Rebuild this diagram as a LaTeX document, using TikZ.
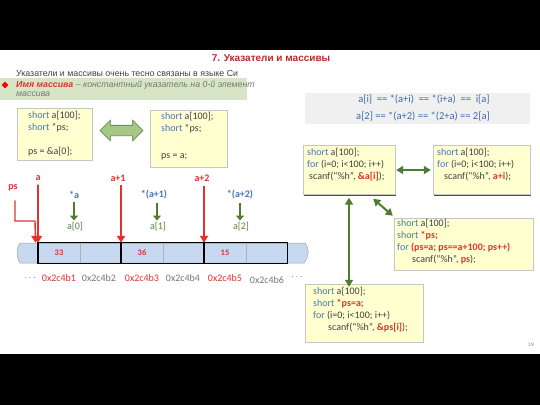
\documentclass[tikz,border=0pt]{standalone}
\usepackage{fontspec}
\setmainfont{Liberation Sans}
\newfontfamily\codefont{Carlito}
\usetikzlibrary{shapes.arrows,shapes.geometric,arrows.meta,shadows}
\definecolor{titlered}{RGB}{192,40,40}
\definecolor{lblred}{RGB}{226,50,45}
\definecolor{kwblue}{RGB}{70,120,185}
\definecolor{fblue}{RGB}{60,105,170}
\definecolor{txtgray}{RGB}{64,64,64}
\definecolor{itgray}{RGB}{120,120,120}
\definecolor{bandgreen}{RGB}{214,229,198}
\definecolor{codeyellow}{RGB}{255,255,208}
\definecolor{arrgreen}{RGB}{80,125,45}
\definecolor{lightarr}{RGB}{165,200,135}
\definecolor{lblgreen}{RGB}{90,130,60}
\definecolor{stripblue}{RGB}{198,217,240}
\definecolor{fboxgray}{RGB}{240,240,240}
\newcommand\kwd[1]{\textcolor{kwblue}{#1}}
\newcommand\rbd[1]{\textcolor{lblred}{\bfseries #1}}
\tikzset{
  codebox/.style={draw=gray!45, fill=codeyellow, inner sep=0pt,
    drop shadow={shadow xshift=1.3pt, shadow yshift=-1.3pt, fill=black!70, opacity=1}},
  codetext/.style={font=\codefont\fontsize{10}{12}\selectfont, text=txtgray, align=left, inner sep=0pt, anchor=north west},
  ftext/.style={font=\codefont\fontsize{10.5}{12}\selectfont, text=fblue, inner sep=0pt},
  ptrlbl/.style={font=\codefont\bfseries\fontsize{10}{11}\selectfont, text=lblred, inner sep=1pt},
  derlbl/.style={font=\codefont\bfseries\fontsize{10}{11}\selectfont, text=kwblue, inner sep=1pt},
  elemlbl/.style={font=\codefont\fontsize{10}{11}\selectfont, text=lblgreen, inner sep=1pt},
  addr/.style={font=\codefont\fontsize{10}{11}\selectfont, inner sep=0pt},
  cellbox/.style={draw=gray!60, minimum width=41.5pt, minimum height=20pt, inner sep=0pt, font=\codefont\bfseries\fontsize{8.5}{9}\selectfont, text=lblred},
  redarrow/.style={draw=lblred, line width=1.6pt, -{Triangle[width=8pt,length=7pt]}},
  smallg/.style={draw=arrgreen, line width=2.6pt, -{Triangle[width=8pt,length=5pt]}},
  garrow/.style={draw=arrgreen, line width=2pt, {Triangle[width=8pt,length=7pt]}-{Triangle[width=8pt,length=7pt]}}
}
\begin{document}
\begin{tikzpicture}[x=1pt,y=-1pt]
\useasboundingbox (0,0) rectangle (540,405);
\fill[white] (0,0) rectangle (540,405);
\fill[black] (0,0) rectangle (540,50);
\fill[black] (0,354) rectangle (540,405);

% title and intro
\node[font=\bfseries\fontsize{10}{11}\selectfont, text=titlered, inner sep=0] (title) at (271,58) {7. Указатели и массивы};
\node[font=\fontsize{8.8}{10}\selectfont, text=txtgray, anchor=west, inner sep=0] (intro) at (16,73) {Указатели и массивы очень тесно связаны в языке Си};
\fill[bandgreen] (0,78) rectangle (247,100);
\node[diamond, fill=red, minimum size=7pt, inner sep=0] (bul) at (5,85) {};
\node[font=\itshape\fontsize{8.8}{9.8}\selectfont, text=itgray, anchor=north west, align=left, inner sep=0] (band) at (16,80.3)
  {\textcolor{lblred}{\bfseries Имя массива} – константный указатель на 0-й элемент\\массива};

% formula box
\node[fill=fboxgray, minimum width=225pt, minimum height=31pt, inner sep=0] (fbox) at (417.5,108) {};
\node[ftext] (f1) at (424,99.5) {a[i]\ \ == *(a+i)\ \ == *(i+a)\ \ ==\ \ i[a]};
\node[ftext] (f2) at (423,116) {a[2] == *(a+2) == *(2+a) == 2[a]};

% left code boxes
\node[codebox, minimum width=75pt, minimum height=52pt] (b1) at (54.5,134) {};
\node[codetext] (t1) at (28,111) {\kwd{short} a[100];\\\kwd{short} *ps;\\[12pt]ps = \&a[0];};
\node[codebox, minimum width=77pt, minimum height=57pt] (b2) at (188.5,138.5) {};
\node[codetext] (t2) at (161,112) {\kwd{short} a[100];\\\kwd{short} *ps;\\[15pt]ps = a;};
\node[double arrow, fill=lightarr, draw=arrgreen, line width=0.6pt, minimum height=43pt, inner sep=5pt, double arrow head extend=5pt] (darr) at (121.5,130.5) {};

% pointer labels
\node[ptrlbl] (lps) at (13,188) {ps};
\node[ptrlbl] (la) at (38,178) {a};
\node[ptrlbl] (la1) at (118,178) {a+1};
\node[ptrlbl] (la2) at (202,178) {a+2};
\node[derlbl] (d0) at (74,195) {*a};
\node[derlbl] (d1) at (154,195) {*(a+1)};
\node[derlbl] (d2) at (240,195) {*(a+2)};
\node[elemlbl] (e0) at (75,227) {a[0]};
\node[elemlbl] (e1) at (158,227) {a[1]};
\node[elemlbl] (e2) at (241,227) {a[2]};

% memory strip
\draw[fill=stripblue, draw=gray!70, line width=0.5pt] (20,243) -- (305,243) .. controls (310,250) and (309,256) .. (304,263) -- (20,263) .. controls (16,256) and (16,249) .. (20,243) -- cycle;
\node[cellbox] (m1) at (59,253) {33};
\node[cellbox] (m2) at (100.5,253) {};
\node[cellbox] (m3) at (142,253) {36};
\node[cellbox] (m4) at (183.5,253) {};
\node[cellbox] (m5) at (225,253) {15};
\node[cellbox] (m6) at (266.5,253) {};
\draw[line width=1.2pt] (m1.north west) rectangle (m2.south east);
\draw[line width=1.2pt] (m3.north west) rectangle (m4.south east);
\draw[line width=1.2pt] (m5.north west) rectangle (m6.south east);

% addresses
\node[addr, text=itgray] (dl) at (30,278) {$\cdots$};
\node[addr, text=lblred] (ad1) at (59,278) {0x2c4b1};
\node[addr, text=itgray] (ad2) at (99,278) {0x2c4b2};
\node[addr, text=lblred] (ad3) at (142,278) {0x2c4b3};
\node[addr, text=itgray] (ad4) at (183,278) {0x2c4b4};
\node[addr, text=lblred] (ad5) at (225,278) {0x2c4b5};
\node[addr, text=itgray] (ad6) at (267,280) {0x2c4b6};
\node[addr, text=itgray] (dr) at (297,277) {$\cdots$};

% red pointer arrows
\draw[redarrow] ([yshift=-3pt]la.south) -- (m1.north west);
\draw[redarrow] ([yshift=-3pt]la1.south -| m3.north west) -- (m3.north west);
\draw[redarrow] ([yshift=-3pt]la2.south -| m5.north west) -- (m5.north west);
\draw[redarrow, line width=1.4pt] ([xshift=2pt,yshift=-8pt]lps.south) |- (35,221) -- ([xshift=-2.5pt]m1.north west);

% green small arrows
\draw[smallg] ([yshift=-2pt]d0.south) -- ([xshift=-1pt,yshift=1pt]e0.north);
\draw[smallg] ([xshift=3pt,yshift=-2pt]d1.south) -- ([xshift=-1pt,yshift=1pt]e1.north);
\draw[smallg] ([yshift=-2pt]d2.south) -- ([xshift=-1pt,yshift=1pt]e2.north);

% right code boxes
\node[codebox, minimum width=92pt, minimum height=49pt] (bA) at (349,170) {};
\node[codetext] (tA) at (307,148.5) {\kwd{short} a[100];\\\kwd{for} (i=0; i<100; i++)\\\hspace*{2pt}scanf(“\%h”, \rbd{\&a[i]});};
\node[codebox, minimum width=97pt, minimum height=49pt] (bB) at (481.5,170) {};
\node[codetext] (tB) at (437,148.5) {\kwd{short} a[100];\\\kwd{for} (i=0; i<100; i++)\\\hspace*{7pt}scanf(“\%h”, \rbd{a+i});};
\node[codebox, minimum width=139pt, minimum height=52pt] (bC) at (463.5,244) {};
\node[codetext] (tC) at (397,219.5) {\kwd{short} a[100];\\\kwd{short} \rbd{*ps;}\\\kwd{for} \rbd{(ps=a; ps==a+100; ps++)}\\\hspace*{15pt}scanf(“\%h”, \rbd{ps});};
\node[codebox, minimum width=118pt, minimum height=58pt] (bD) at (364,313) {};
\node[codetext] (tD) at (313,287.5) {\kwd{short} a[100];\\\kwd{short} \rbd{*ps=a;}\\\kwd{for} (i=0; i<100; i++)\\\hspace*{15pt}scanf(“\%h”, \rbd{\&ps[i]});};

\draw[garrow] ([xshift=1pt]bA.east) -- ([xshift=-2pt]bB.west);
\draw[garrow] ([yshift=-3pt]bA.south) -- ([yshift=-3pt]bA.south |- bD.north);
\draw[garrow] ([xshift=-22pt,yshift=-4pt]bA.south east) -- ([xshift=-1pt,yshift=2pt]bC.north west);

\node[font=\fontsize{5}{6}\selectfont, text=gray, inner sep=0] (pg) at (531,345) {19};
\end{tikzpicture}
\end{document}
